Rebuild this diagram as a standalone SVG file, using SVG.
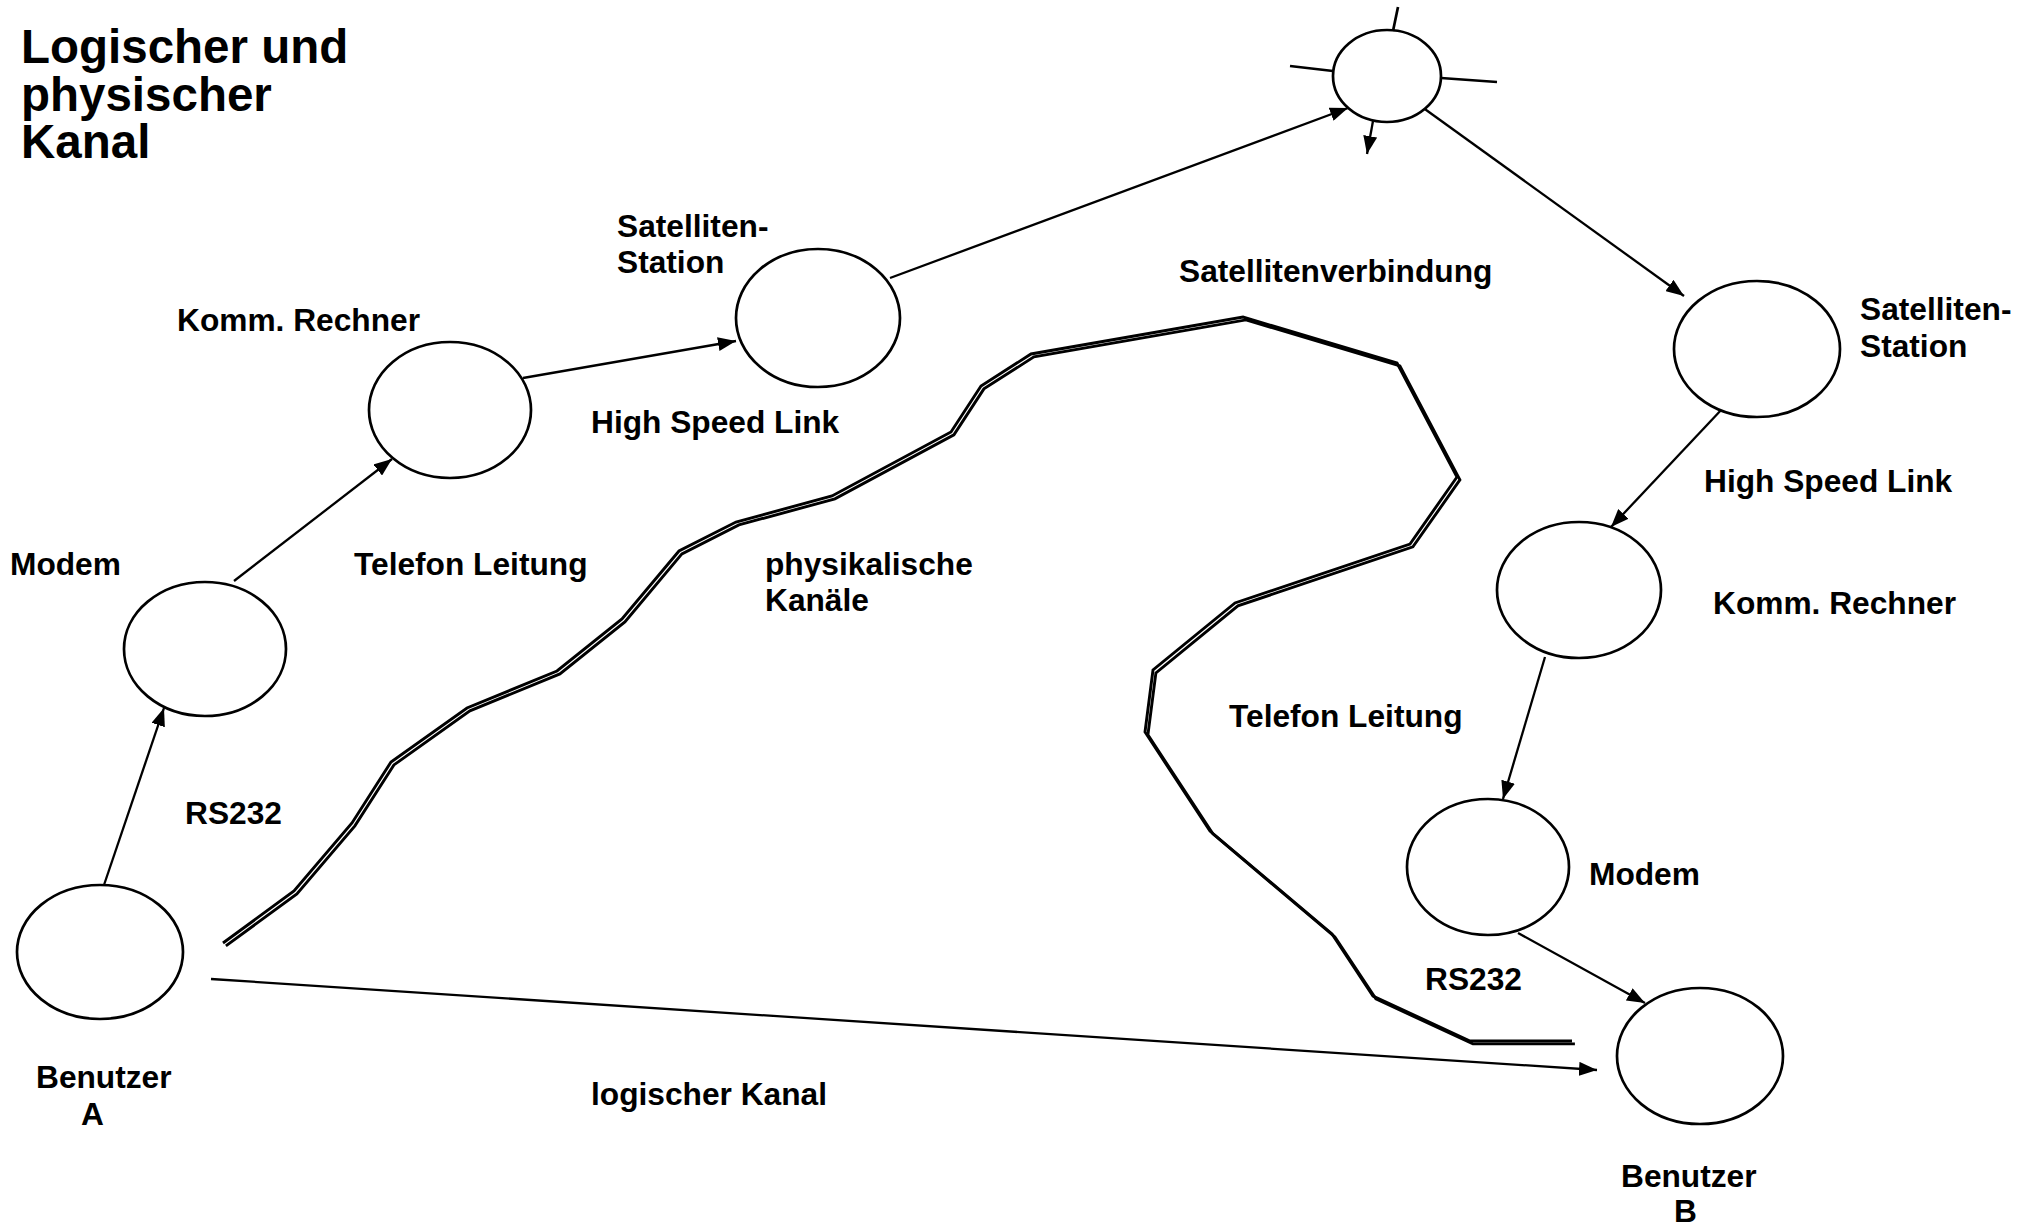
<svg xmlns="http://www.w3.org/2000/svg" width="2032" height="1227" viewBox="0 0 2032 1227">
  <style>
    .node { fill: #ffffff; stroke: #000000; stroke-width: 2.7; }
    .lbl { font-family: "Liberation Sans", Arial, sans-serif; font-weight: bold; font-size: 31.7px; fill: #000000; }
    .title { font-family: "Liberation Sans", Arial, sans-serif; font-weight: bold; font-size: 47.5px; fill: #000000; }
    .conn { fill: none; stroke: #000000; stroke-width: 2.3; }
    .phys { fill: none; stroke: #000000; stroke-width: 2.9; stroke-linejoin: miter; }
    .spoke { fill: none; stroke: #000000; stroke-width: 2.7; }
  </style>
  <defs>
    <marker id="arrow" viewBox="0 0 18 14" refX="18" refY="7" markerWidth="18" markerHeight="14" markerUnits="userSpaceOnUse" orient="auto">
      <path d="M0,0 L18,7 L0,14 z" fill="#000000"/>
    </marker>
    <polyline id="physPath" points="223,943 294,891 352,823 391,762 467,708 557,671 622,619 679,551 736,522 832,496 951,432 981,386 1031,354 1243,317 1397,363 1457,477 1410,544 1235,603 1153,670 1145,732 1210,831 1332,934 1373,996 1470,1041 1572,1041"/>
  </defs>

  <rect width="2032" height="1227" fill="#ffffff"/>

  <!-- heading -->
  <g id="title">
    <text class="title" x="21" y="63">Logischer und</text>
    <text class="title" x="21" y="111">physischer</text>
    <text class="title" x="21" y="158">Kanal</text>
  </g>

  <!-- physical channel: two close strands -->
  <g id="physical-channel">
    <use href="#physPath" class="phys"/>
    <use href="#physPath" class="phys" transform="translate(2.9,2.9)"/>
  </g>

  <!-- arrows between the stations -->
  <g id="connectors">
    <line class="conn" x1="104" y1="885" x2="164" y2="708" marker-end="url(#arrow)"/>
    <line class="conn" x1="234" y1="581" x2="392" y2="459" marker-end="url(#arrow)"/>
    <line class="conn" x1="523" y1="378" x2="736" y2="341" marker-end="url(#arrow)"/>
    <line class="conn" x1="890" y1="278" x2="1348" y2="108" marker-end="url(#arrow)"/>
    <line class="conn" x1="1422" y1="107" x2="1684" y2="296" marker-end="url(#arrow)"/>
    <line class="conn" x1="1723" y1="408" x2="1611" y2="527" marker-end="url(#arrow)"/>
    <line class="conn" x1="1545" y1="657" x2="1503" y2="799" marker-end="url(#arrow)"/>
    <line class="conn" x1="1518" y1="933" x2="1645" y2="1003" marker-end="url(#arrow)"/>
    <line class="conn" x1="211" y1="979" x2="1597" y2="1070" stroke-width="2.7" marker-end="url(#arrow)"/>
  </g>

  <g id="benutzer-a">
    <ellipse class="node" cx="100" cy="952" rx="83" ry="67"/>
    <text class="lbl" x="36" y="1088">Benutzer</text>
    <text class="lbl" x="81" y="1125">A</text>
  </g>

  <g id="modem-a">
    <ellipse class="node" cx="205" cy="649" rx="81" ry="67"/>
    <text class="lbl" x="10" y="575">Modem</text>
    <text class="lbl" x="185" y="824">RS232</text>
  </g>

  <g id="komm-rechner-a">
    <ellipse class="node" cx="450" cy="410" rx="81" ry="68"/>
    <text class="lbl" x="177" y="331">Komm. Rechner</text>
    <text class="lbl" x="354" y="575">Telefon Leitung</text>
  </g>

  <g id="satellitenstation-a">
    <ellipse class="node" cx="818" cy="318" rx="82" ry="69"/>
    <text class="lbl" x="617" y="237">Satelliten-</text>
    <text class="lbl" x="617" y="273">Station</text>
    <text class="lbl" x="591" y="433">High Speed Link</text>
  </g>

  <g id="satellit">
    <ellipse class="node" cx="1387" cy="76" rx="54" ry="46"/>
    <line class="spoke" x1="1393" y1="31" x2="1398" y2="7"/>
    <line class="spoke" x1="1290" y1="66" x2="1333" y2="71" stroke-width="4"/>
    <line class="spoke" x1="1441" y1="78" x2="1497" y2="82"/>
    <line class="conn" x1="1373" y1="121" x2="1367" y2="154" marker-end="url(#arrow)"/>
    <text class="lbl" x="1179" y="282">Satellitenverbindung</text>
  </g>

  <g id="satellitenstation-b">
    <ellipse class="node" cx="1757" cy="349" rx="83" ry="68"/>
    <text class="lbl" x="1860" y="320">Satelliten-</text>
    <text class="lbl" x="1860" y="357">Station</text>
    <text class="lbl" x="1704" y="492">High Speed Link</text>
  </g>

  <g id="komm-rechner-b">
    <ellipse class="node" cx="1579" cy="590" rx="82" ry="68"/>
    <text class="lbl" x="1713" y="614">Komm. Rechner</text>
    <text class="lbl" x="1229" y="727">Telefon Leitung</text>
  </g>

  <g id="modem-b">
    <ellipse class="node" cx="1488" cy="867" rx="81" ry="68"/>
    <text class="lbl" x="1589" y="885">Modem</text>
    <text class="lbl" x="1425" y="990">RS232</text>
  </g>

  <g id="benutzer-b">
    <ellipse class="node" cx="1700" cy="1056" rx="83" ry="68"/>
    <text class="lbl" x="1621" y="1187">Benutzer</text>
    <text class="lbl" x="1674" y="1222">B</text>
  </g>

  <g id="kanal-labels">
    <text class="lbl" x="765" y="575">physikalische</text>
    <text class="lbl" x="765" y="611">Kanäle</text>
    <text class="lbl" x="591" y="1105">logischer Kanal</text>
  </g>
</svg>
